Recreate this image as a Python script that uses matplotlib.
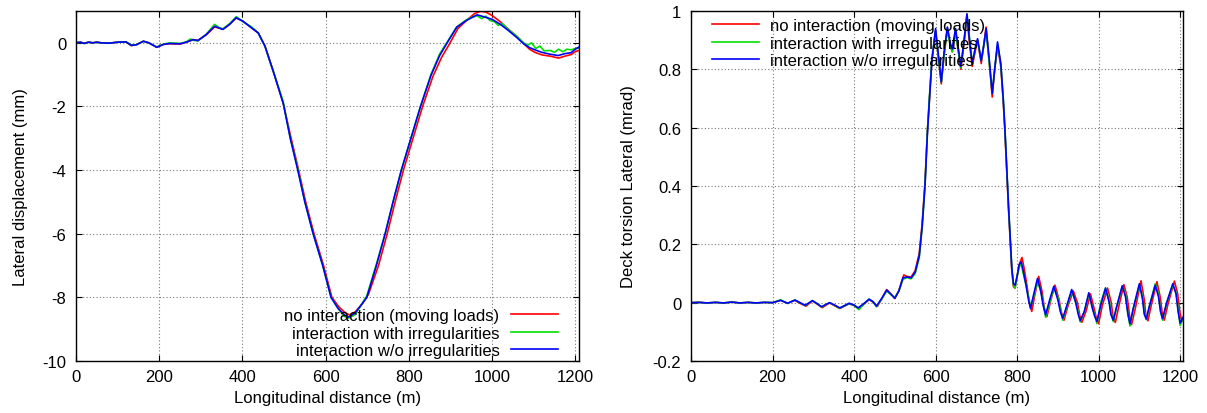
import matplotlib.pyplot as plt
from matplotlib.ticker import FixedLocator, FixedFormatter

plt.rcParams['font.family'] = ['Liberation Sans', 'DejaVu Sans']
plt.rcParams['axes.unicode_minus'] = False

labels = ["no interaction (moving loads)",
          "interaction with irregularities",
          "interaction w/o irregularities"]
colors = ['#ff0000', '#00e000', '#0000ff']

# ---- left panel: lateral displacement (mm) ----
disp_x_red = [0, 10, 20, 30, 40, 50, 60, 80, 100, 120, 133, 145, 162, 175, 194,
              210, 225, 250, 265, 281, 293, 313, 333, 353, 369, 385, 401, 422,
              438, 454, 474, 498, 517, 535, 552, 572, 595, 615, 632, 648, 658,
              672, 688, 703, 727, 748, 767, 787, 810, 833, 858, 879, 897, 918,
              940, 958, 972, 985, 1000, 1020, 1040, 1060, 1076, 1090, 1103,
              1120, 1140, 1160, 1175, 1190, 1200, 1208]
disp_red = [0.0, 0.02, -0.01, 0.02, 0.0, 0.02, 0.0, -0.01, 0.02, 0.03, -0.09,
            -0.06, 0.05, 0.0, -0.14, -0.05, -0.03, -0.04, 0.02, 0.1, 0.08, 0.25,
            0.5, 0.43, 0.58, 0.78, 0.68, 0.47, 0.31, -0.1, -0.89, -1.9, -3.0,
            -4.0, -5.0, -6.0, -7.0, -8.0, -8.3, -8.5, -8.55, -8.45, -8.2, -7.9,
            -7.0, -6.0, -5.0, -4.0, -3.0, -2.0, -1.05, -0.45, -0.05, 0.45, 0.72,
            0.92, 0.99, 0.97, 0.86, 0.66, 0.42, 0.2, -0.02, -0.2, -0.3, -0.38,
            -0.42, -0.48, -0.42, -0.37, -0.28, -0.24]

disp_x_green = [0, 10, 20, 30, 40, 50, 60, 80, 100, 120, 133, 145, 162, 175,
                194, 210, 225, 250, 265, 275, 281, 293, 313, 333, 345, 353, 369,
                385, 401, 422, 438, 454, 474, 498, 515, 533, 550, 570, 593, 613,
                630, 645, 655, 670, 685, 699, 722, 743, 762, 782, 805, 828, 853,
                874, 892, 915, 938, 950, 964, 975, 985, 995, 1005, 1015, 1025,
                1039, 1060, 1076, 1085, 1095, 1105, 1115, 1125, 1140, 1150, 1160,
                1170, 1180, 1190, 1200, 1208]
disp_green = [0.0, 0.02, -0.02, 0.02, 0.0, 0.02, 0.0, -0.01, 0.02, 0.03, -0.07,
              -0.06, 0.05, 0.0, -0.13, -0.04, 0.0, -0.02, 0.03, 0.12, 0.08,
              0.06, 0.27, 0.58, 0.47, 0.44, 0.6, 0.82, 0.67, 0.5, 0.31, -0.1,
              -0.9, -1.85, -3.0, -3.95, -5.0, -6.0, -7.0, -8.0, -8.35, -8.6,
              -8.65, -8.55, -8.25, -7.95, -6.95, -6.0, -5.0, -4.0, -3.0, -2.0,
              -1.0, -0.35, 0.02, 0.5, 0.72, 0.8, 0.85, 0.76, 0.84, 0.7, 0.67,
              0.55, 0.6, 0.42, 0.2, 0.0, -0.08, 0.0, -0.18, -0.1, -0.25, -0.24,
              -0.3, -0.2, -0.28, -0.2, -0.22, -0.18, -0.16]

disp_x_blue = [0, 10, 20, 30, 40, 50, 60, 80, 100, 120, 133, 145, 162, 175, 194,
               210, 225, 250, 265, 281, 293, 313, 333, 353, 369, 385, 401, 422,
               438, 454, 474, 498, 515, 533, 550, 570, 593, 613, 630, 645, 655,
               670, 685, 699, 722, 743, 762, 782, 805, 828, 853, 874, 892, 915,
               938, 964, 980, 1000, 1020, 1039, 1060, 1076, 1090, 1103, 1120,
               1140, 1159, 1175, 1190, 1200, 1208]
disp_blue = [0.0, 0.02, -0.02, 0.02, 0.0, 0.02, 0.0, -0.01, 0.02, 0.03, -0.08,
             -0.06, 0.05, 0.0, -0.14, -0.05, -0.02, -0.03, 0.02, 0.1, 0.07,
             0.26, 0.52, 0.42, 0.58, 0.79, 0.68, 0.47, 0.31, -0.1, -0.89, -1.9,
             -3.0, -4.0, -5.0, -6.0, -7.0, -8.0, -8.35, -8.55, -8.62, -8.5,
             -8.25, -8.0, -7.0, -6.0, -5.0, -4.0, -3.0, -2.0, -1.03, -0.4, 0.0,
             0.49, 0.7, 0.88, 0.82, 0.74, 0.58, 0.39, 0.16, -0.03, -0.15, -0.22,
             -0.3, -0.36, -0.4, -0.34, -0.31, -0.2, -0.14]

disp_yticks = [-10, -8, -6, -4, -2, 0]

# ---- right panel: deck torsion (mrad) ----
tors_x_blue = [0, 20, 40, 60, 80, 100, 120, 140, 160, 180, 200, 220, 237, 255,
               270, 280, 298, 310, 320, 340, 352, 365, 388, 400, 410, 425, 437,
               447, 455, 468, 480, 490, 500, 510, 520, 530, 540, 550, 560, 567,
               574, 580, 586, 591, 600, 607, 614, 621, 629, 636, 641, 649, 655,
               662, 670, 677, 684, 690, 697, 703, 712, 718, 724, 732, 739, 745,
               752, 760, 766, 770, 775, 779, 784, 787, 791, 795, 800, 805, 810,
               815, 822, 828, 833, 841, 850, 858, 864, 870, 880, 890, 900, 906,
               912, 922, 934, 944, 950, 955, 965, 976, 985, 990, 996, 1005, 1017,
               1026, 1030, 1036, 1045, 1058, 1066, 1072, 1077, 1085, 1100, 1108,
               1112, 1117, 1125, 1139, 1147, 1152, 1157, 1167, 1182, 1190, 1195,
               1200, 1207]
tors_blue = [0.0, 0.001, -0.001, 0.001, -0.001, 0.002, -0.001, 0.001, -0.001,
             0.001, 0.0, 0.008, -0.002, 0.009, -0.002, -0.009, 0.007, -0.004,
             -0.014, 0.0, -0.008, -0.018, -0.002, -0.008, -0.018, -0.002,
             0.012, 0.003, -0.012, 0.015, 0.043, 0.03, 0.015, 0.04, 0.085,
             0.088, 0.085, 0.105, 0.16, 0.26, 0.4, 0.58, 0.72, 0.83, 0.94, 0.85,
             0.757, 0.86, 0.945, 0.89, 0.87, 0.94, 0.88, 0.81, 0.9, 0.99, 0.89,
             0.82, 0.87, 0.905, 0.83, 0.88, 0.94, 0.83, 0.717, 0.8, 0.894, 0.82,
             0.7, 0.6, 0.45, 0.33, 0.2, 0.12, 0.065, 0.06, 0.09, 0.13, 0.14,
             0.11, 0.06, 0.01, -0.02, 0.03, 0.083, 0.04, -0.01, -0.042, 0.01,
             0.056, 0.01, -0.03, -0.054, -0.01, 0.045, 0.0, -0.04, -0.062,
             -0.03, 0.034, -0.02, -0.045, -0.065, -0.01, 0.05, 0.0, -0.04,
             -0.06, -0.01, 0.058, 0.02, -0.04, -0.072, -0.02, 0.065, 0.01,
             -0.04, -0.056, -0.01, 0.06, 0.02, -0.03, -0.055, 0.0, 0.065, 0.03,
             -0.03, -0.07, -0.05]

tors_x_red = [0, 20, 40, 60, 80, 100, 120, 140, 160, 180, 200, 220, 237, 255,
              270, 282, 298, 310, 322, 340, 352, 365, 388, 400, 412, 425, 437,
              447, 457, 468, 480, 490, 500, 510, 522, 530, 540, 550, 560, 567,
              574, 580, 586, 591, 600, 607, 614, 621, 629, 636, 641, 649, 655,
              662, 670, 677, 684, 690, 697, 703, 712, 718, 724, 732, 739, 745,
              752, 760, 766, 770, 775, 779, 784, 787, 791, 795, 800, 805, 812,
              817, 824, 830, 836, 844, 853, 861, 867, 873, 883, 893, 903, 909,
              915, 925, 938, 948, 954, 959, 969, 980, 989, 994, 1000, 1009,
              1022, 1031, 1035, 1041, 1050, 1062, 1070, 1076, 1081, 1090, 1104,
              1112, 1116, 1121, 1129, 1143, 1151, 1156, 1161, 1171, 1186, 1194,
              1199, 1204, 1207]
tors_red = [0.0, 0.001, -0.001, 0.001, -0.001, 0.002, -0.001, 0.001, -0.001,
            0.001, 0.0, 0.008, -0.002, 0.008, -0.004, -0.012, 0.006, -0.005,
            -0.017, -0.001, -0.01, -0.02, -0.004, -0.01, -0.02, -0.004, 0.01,
            0.002, -0.013, 0.013, 0.045, 0.03, 0.014, 0.042, 0.095, 0.09, 0.088,
            0.11, 0.17, 0.27, 0.41, 0.59, 0.72, 0.83, 0.93, 0.84, 0.75, 0.85,
            0.94, 0.88, 0.86, 0.93, 0.87, 0.8, 0.89, 0.98, 0.88, 0.81, 0.86,
            0.9, 0.82, 0.88, 0.945, 0.82, 0.705, 0.8, 0.88, 0.81, 0.69, 0.59,
            0.44, 0.32, 0.19, 0.11, 0.055, 0.05, 0.09, 0.13, 0.155, 0.12, 0.06,
            0.0, -0.03, 0.03, 0.09, 0.04, -0.02, -0.048, 0.01, 0.06, 0.01,
            -0.035, -0.06, -0.01, 0.04, 0.0, -0.045, -0.067, -0.03, 0.03,
            -0.02, -0.05, -0.072, -0.01, 0.05, 0.0, -0.045, -0.068, -0.01,
            0.062, 0.02, -0.045, -0.075, -0.02, 0.075, 0.01, -0.045, -0.062,
            -0.01, 0.072, 0.02, -0.035, -0.06, 0.0, 0.074, 0.03, -0.03, -0.065,
            -0.06]

tors_x_green = [0, 20, 40, 60, 80, 100, 120, 140, 160, 180, 200, 220, 237, 255,
                270, 280, 298, 310, 320, 340, 352, 365, 388, 400, 412, 425, 437,
                447, 455, 468, 480, 490, 500, 510, 520, 530, 540, 550, 560, 567,
                574, 580, 586, 591, 600, 607, 614, 621, 629, 636, 641, 649, 655,
                662, 670, 677, 684, 690, 697, 703, 712, 718, 724, 732, 739, 745,
                752, 760, 766, 770, 775, 779, 784, 787, 791, 795, 800, 805, 810,
                815, 822, 828, 833, 841, 850, 858, 864, 870, 880, 890, 900, 906,
                912, 922, 934, 944, 950, 955, 965, 976, 985, 990, 996, 1005,
                1017, 1026, 1030, 1036, 1045, 1058, 1066, 1072, 1077, 1085, 1100,
                1108, 1112, 1117, 1125, 1139, 1147, 1152, 1157, 1167, 1182, 1190,
                1195, 1200, 1207]
tors_green = [0.0, 0.001, -0.001, 0.001, -0.001, 0.002, -0.001, 0.001, -0.001,
              0.001, 0.0, 0.01, -0.003, 0.009, -0.002, -0.01, 0.007, -0.004,
              -0.015, 0.0, -0.009, -0.019, -0.003, -0.009, -0.024, -0.003,
              0.012, 0.003, -0.014, 0.012, 0.04, 0.028, 0.018, 0.04, 0.08,
              0.086, 0.082, 0.1, 0.155, 0.255, 0.4, 0.59, 0.73, 0.84, 0.93, 0.84,
              0.755, 0.85, 0.94, 0.88, 0.86, 0.935, 0.87, 0.805, 0.9, 0.99, 0.9,
              0.82, 0.87, 0.9, 0.83, 0.88, 0.93, 0.82, 0.72, 0.8, 0.885, 0.82,
              0.7, 0.6, 0.45, 0.33, 0.2, 0.12, 0.06, 0.05, 0.09, 0.12, 0.135,
              0.1, 0.06, 0.02, -0.01, 0.02, 0.075, 0.04, 0.0, -0.05, 0.0, 0.05,
              0.02, -0.02, -0.06, -0.015, 0.04, 0.0, -0.03, -0.066, -0.03, 0.03,
              -0.02, -0.04, -0.072, 0.0, 0.05, 0.01, -0.03, -0.065, -0.01, 0.055,
              0.03, -0.04, -0.08, -0.02, 0.06, 0.02, -0.03, -0.058, -0.01, 0.065,
              0.03, -0.03, -0.06, 0.0, 0.06, 0.035, -0.02, -0.078, -0.055]

tors_yticks = [-0.2, 0, 0.2, 0.4, 0.6, 0.8, 1]
tors_ytick_labels = ['-0.2', '0', '0.2', '0.4', '0.6', '0.8', '1']
x_ticks = [0, 200, 400, 600, 800, 1000, 1200]

FS = 12

fig = plt.figure(figsize=(12.07, 4.14), dpi=100)
ax1 = fig.add_axes([0.063, 0.1256, 0.4167, 0.8454])
ax2 = fig.add_axes([0.5725, 0.1256, 0.4076, 0.8454])


def style(ax):
    ax.grid(True, color='#777777', linestyle=(0, (1, 2)), linewidth=0.8)
    ax.tick_params(direction='in', top=True, right=True, length=4,
                   width=0.8, labelsize=FS, pad=7)
    ax.tick_params(axis='x', pad=6)
    for s in ax.spines.values():
        s.set_linewidth(1.0)
    ax.set_xticks(x_ticks)
    ax.set_xlabel("Longitudinal distance (m)", fontsize=FS, labelpad=4)


# left
ax1.plot(disp_x_red, disp_red, color=colors[0], lw=1.2, label=labels[0])
ax1.plot(disp_x_green, disp_green, color=colors[1], lw=1.2, label=labels[1])
ax1.plot(disp_x_blue, disp_blue, color=colors[2], lw=1.2, label=labels[2])
ax1.set_xlim(0, 1209)
ax1.set_ylim(-10, 1)
ax1.set_yticks(disp_yticks)
style(ax1)
ax1.set_ylabel("Lateral displacement (mm)", fontsize=FS, labelpad=10)
ax1.legend(loc='lower right', bbox_to_anchor=(0.958, 0.008), frameon=False,
           markerfirst=False, fontsize=FS, handlelength=2.8,
           handletextpad=0.7, borderpad=0, borderaxespad=0, labelspacing=0.15)

# right
ax2.plot(tors_x_red, tors_red, color=colors[0], lw=1.2, label=labels[0])
ax2.plot(tors_x_green, tors_green, color=colors[1], lw=1.2, label=labels[1])
ax2.plot(tors_x_blue, tors_blue, color=colors[2], lw=1.2, label=labels[2])
ax2.set_xlim(0, 1207)
ax2.set_ylim(-0.2, 1)
ax2.yaxis.set_major_locator(FixedLocator(tors_yticks))
ax2.yaxis.set_major_formatter(FixedFormatter(tors_ytick_labels))
style(ax2)
ax2.set_ylabel("Deck torsion Lateral (mrad)", fontsize=FS, labelpad=12)
ax2.legend(loc='upper left', bbox_to_anchor=(0.043, 0.98), frameon=False,
           fontsize=FS, handlelength=2.8, handletextpad=0.7, borderpad=0,
           borderaxespad=0, labelspacing=0.15)

fig.savefig("out.png", dpi=100)
